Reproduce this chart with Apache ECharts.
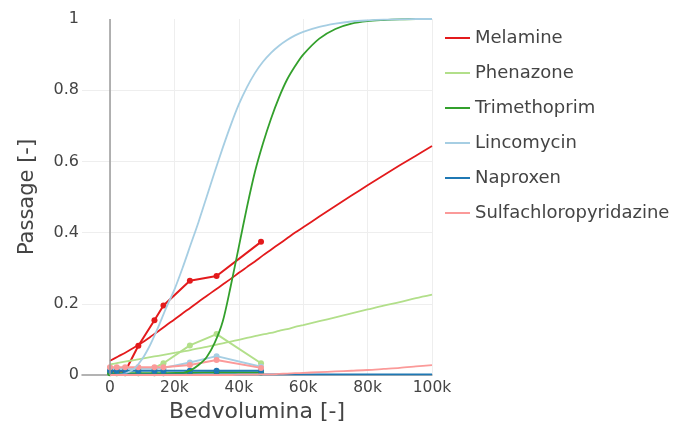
<!DOCTYPE html>
<html>
<head>
<meta charset="utf-8">
<script src="https://cdn.jsdelivr.net/npm/echarts@6/dist/echarts.min.js"></script>
<style>html,body{margin:0;padding:0;background:#fff;}#chart{width:678px;height:442px;}</style>
</head>
<body>
<div id="chart"></div>
<script>
// ---- data ----
const seriesNames = ['Melamine', 'Phenazone', 'Trimethoprim', 'Lincomycin', 'Naproxen', 'Sulfachloropyridazine'];
const seriesColors = ['#e31a1c', '#b2df8a', '#33a02c', '#a6cee3', '#1f78b4', '#fb9a99'];

// model curves
const xModel = [0, 2500, 5000, 7500, 10000, 12500, 15000, 17500, 20000, 22500, 25000, 27500, 30000, 32500, 35000, 37500, 40000, 42500, 45000, 47500, 50000, 52500, 55000, 57500, 60000, 65000, 70000, 75000, 80000, 85000, 90000, 95000, 100000];
const melamineModel = [0.04, 0.052, 0.064, 0.077, 0.091, 0.107, 0.123, 0.14, 0.156, 0.173, 0.189, 0.206, 0.222, 0.238, 0.254, 0.27, 0.287, 0.303, 0.319, 0.336, 0.352, 0.368, 0.384, 0.4, 0.415, 0.445, 0.475, 0.504, 0.533, 0.561, 0.589, 0.616, 0.643];
const phenazoneModel = [0.03, 0.034, 0.038, 0.042, 0.046, 0.05, 0.054, 0.058, 0.062, 0.066, 0.07, 0.075, 0.079, 0.084, 0.089, 0.094, 0.099, 0.104, 0.109, 0.114, 0.118, 0.124, 0.129, 0.135, 0.14, 0.151, 0.162, 0.173, 0.184, 0.195, 0.205, 0.216, 0.226];
const trimethoprimModel = [0, 0, 0, 0, 0, 0, 0, 0.001, 0.002, 0.005, 0.013, 0.028, 0.05, 0.09, 0.15, 0.25, 0.36, 0.47, 0.57, 0.65, 0.72, 0.78, 0.83, 0.868, 0.9, 0.945, 0.972, 0.987, 0.994, 0.997, 0.999, 1, 1];
const lincomycinModel = [0, 0.001, 0.005, 0.018, 0.045, 0.085, 0.135, 0.19, 0.24, 0.30, 0.365, 0.43, 0.50, 0.57, 0.638, 0.702, 0.76, 0.808, 0.848, 0.88, 0.905, 0.925, 0.941, 0.954, 0.964, 0.978, 0.987, 0.993, 0.996, 0.998, 0.999, 1, 1];
const naproxenModel = [0.002, 0.002, 0.002, 0.002, 0.002, 0.002, 0.002, 0.002, 0.002, 0.002, 0.002, 0.002, 0.002, 0.002, 0.002, 0.002, 0.002, 0.002, 0.002, 0.002, 0.002, 0.002, 0.002, 0.002, 0.002, 0.002, 0.002, 0.002, 0.002, 0.002, 0.002, 0.002, 0.002];
const sulfaModel = [0, 0, 0, 0, 0, 0, 0, 0, 0, 0, 0, 0, 0, 0, 0, 0, 0.001, 0.001, 0.001, 0.002, 0.002, 0.003, 0.004, 0.005, 0.006, 0.008, 0.01, 0.012, 0.014, 0.017, 0.02, 0.024, 0.028];

// measured points
const xMeas = [0, 2100, 4700, 8800, 13800, 16600, 24800, 33100, 46900];
const melamineMeas = [0.012, 0.01, 0.01, 0.082, 0.154, 0.195, 0.265, 0.278, 0.374];
const phenazoneMeas = [0.02, 0.02, 0.02, 0.02, 0.02, 0.033, 0.083, 0.115, 0.033];
const trimethoprimMeas = [0.005, 0.005, 0.005, 0.005, 0.005, 0.005, 0.006, 0.008, 0.007];
const lincomycinMeas = [0.018, 0.018, 0.018, 0.018, 0.018, 0.02, 0.035, 0.053, 0.023];
const naproxenMeas = [0.012, 0.012, 0.012, 0.012, 0.012, 0.012, 0.012, 0.012, 0.012];
const sulfaMeas = [0.022, 0.022, 0.022, 0.022, 0.022, 0.022, 0.028, 0.042, 0.02];

const xTickValues = [0, 20000, 40000, 60000, 80000, 100000];

// ---- build ----
const models = [melamineModel, phenazoneModel, trimethoprimModel, lincomycinModel, naproxenModel, sulfaModel];
const meas = [melamineMeas, phenazoneMeas, trimethoprimMeas, lincomycinMeas, naproxenMeas, sulfaMeas];
const FONT = '"DejaVu Sans", Verdana, sans-serif';
const TXT = '#444';

const series = [];
meas.forEach((arr, i) => {
  series.push({
    name: seriesNames[i],
    type: 'line',
    data: xMeas.map((x, j) => [x, arr[j]]),
    symbol: 'circle',
    symbolSize: 6,
    showSymbol: true,
    lineStyle: { width: 2, color: seriesColors[i] },
    itemStyle: { color: seriesColors[i] },
    z: 3,
    animation: false
  });
});
models.forEach((arr, i) => {
  series.push({
    name: seriesNames[i],
    type: 'line',
    data: xModel.map((x, j) => [x, arr[j]]),
    symbol: 'none',
    smooth: 0.3,
    lineStyle: { width: 1.8, color: seriesColors[i] },
    itemStyle: { color: seriesColors[i] },
    z: 4,
    animation: false
  });
});
// vertical zero line
series[0].markLine = {
  silent: true,
  symbol: 'none',
  label: { show: false },
  lineStyle: { color: '#9a9a9a', width: 1.5, type: 'solid' },
  data: [{ xAxis: 0 }],
  animation: false
};

const chart = echarts.init(document.getElementById('chart'), null, { renderer: 'canvas' });
chart.setOption({
  animation: false,
  backgroundColor: '#fff',
  textStyle: { fontFamily: FONT },
  grid: { left: 82, right: 246, top: 19, bottom: 67, containLabel: false },
  legend: {
    orient: 'vertical',
    left: 440,
    top: 24,
    data: seriesNames,
    icon: 'rect',
    itemWidth: 25,
    itemHeight: 2,
    itemGap: 17,
    textStyle: { fontFamily: FONT, fontSize: 18, color: TXT }
  },
  xAxis: {
    type: 'value',
    min: -8700,
    max: 100000,
    name: 'Bedvolumina [-]',
    nameLocation: 'middle',
    nameGap: 13,
    nameTextStyle: { fontFamily: FONT, fontSize: 22, color: TXT },
    axisLine: { show: true, onZero: false, lineStyle: { color: '#9a9a9a', width: 1.5 } },
    axisTick: { show: false, customValues: xTickValues },
    axisLabel: {
      customValues: xTickValues,
      fontFamily: FONT, fontSize: 15.5, color: TXT, margin: 5,
      formatter: v => v === 0 ? '0' : (v / 1000) + 'k'
    },
    splitLine: { show: true, lineStyle: { color: '#eeeeee', width: 1 } }
  },
  yAxis: {
    type: 'value',
    min: 0,
    max: 1,
    interval: 0.2,
    name: 'Passage [-]',
    nameLocation: 'middle',
    nameGap: 44,
    nameTextStyle: { fontFamily: FONT, fontSize: 21, color: TXT },
    axisLine: { show: false },
    axisTick: { show: false },
    axisLabel: { fontFamily: FONT, fontSize: 16, color: TXT, margin: 3, formatter: v => String(+v.toFixed(1)) },
    splitLine: { show: true, showMinLine: false, showMaxLine: false, lineStyle: { color: '#eeeeee', width: 1 } }
  },
  series: series
});
</script>
</body>
</html>
